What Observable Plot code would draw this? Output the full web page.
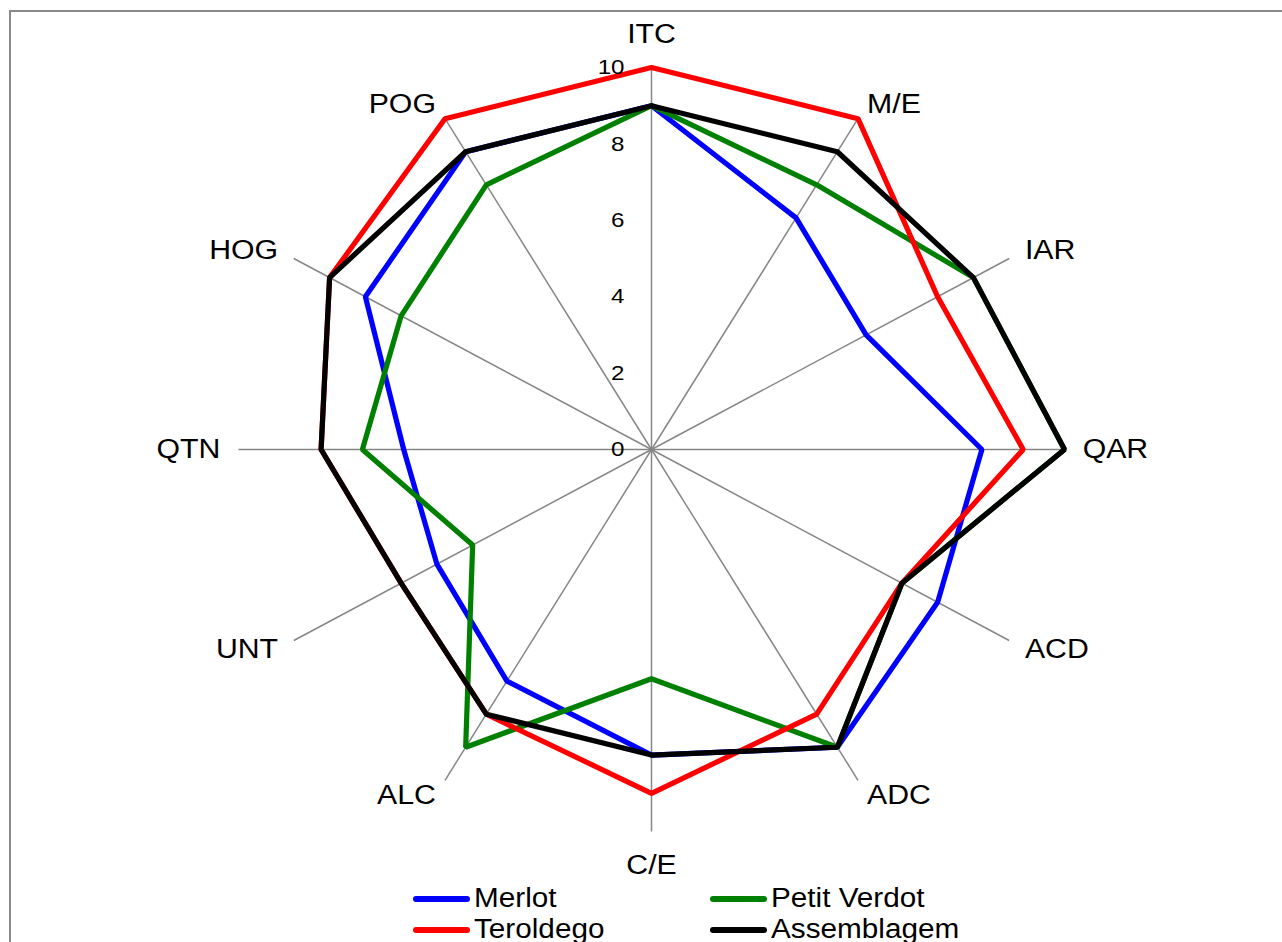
<!DOCTYPE html>
<html><head><meta charset="utf-8">
<script src="https://cdn.jsdelivr.net/npm/d3@7"></script>
<script src="https://cdn.jsdelivr.net/npm/@observablehq/plot@0.6"></script>
<style>
html,body{margin:0;padding:0;background:#fff;overflow:hidden;width:1282px;height:942px;}
#frame{position:absolute;left:9px;top:10px;width:1400px;height:1000px;border-left:2px solid #8a8a8a;border-top:2px solid #8a8a8a;}
#chart{position:absolute;left:0;top:0;}
#legend{position:absolute;left:0;top:883px;width:1282px;height:70px;font-family:"Liberation Sans",Arial,sans-serif;font-size:27px;color:#000;}
.item{position:absolute;display:flex;align-items:center;height:31px;white-space:nowrap;}
.sw{width:57px;height:6px;border-radius:3px;margin-right:4px;}
.lt{display:inline-block;transform:scaleX(1.1);transform-origin:left center;}
</style></head><body>
<div id="frame"></div>
<div id="chart"></div>
<div id="legend"></div>
<script>
// Categories (clockwise from top)
const axesLabels = ["ITC","M/E","IAR","QAR","ACD","ADC","C/E","ALC","UNT","QTN","HOG","POG"];
// Series values
const merlot      = [9, 7, 6, 8, 8, 9, 8, 7, 6, 6, 8, 9];
const petitVerdot = [9, 8, 9, 10, 7, 9, 6, 9, 5, 7, 7, 8];
const teroldego   = [10, 10, 8, 9, 7, 8, 9, 8, 7, 8, 9, 10];
const assemblagem = [9, 9, 9, 10, 7, 9, 8, 8, 7, 8, 9, 9];
const seriesNames = ["Merlot", "Petit Verdot", "Teroldego", "Assemblagem"];
const seriesColors = ["#0000ff", "#008000", "#ff0000", "#000000"];
const tickValues = [0, 2, 4, 6, 8, 10];
const maxValue = 10;

const seriesValues = [merlot, petitVerdot, teroldego, assemblagem];
const n = axesLabels.length;
const ang = i => i * 2 * Math.PI / n;
const polar = (v, i) => ({x: v * Math.sin(ang(i)), y: v * Math.cos(ang(i))});

const seriesData = seriesValues.map((vals, s) =>
  vals.map((v, i) => ({series: seriesNames[s], axis: axesLabels[i], value: v, ...polar(v, i)})));

const spokes = axesLabels.map((a, i) => ({axis: a, ...polar(maxValue, i)}));

const labelPos = axesLabels.map((a, i) => {
  const s = Math.sin(ang(i));
  const side = Math.abs(s) < 1e-6 ? "middle" : (s > 0 ? "start" : "end");
  const r = side === "middle" ? maxValue + 0.88 : maxValue + 0.44;
  return {axis: a, side, ...polar(r, i)};
});

const font = '"Liberation Sans", Arial, sans-serif';

const marks = [
  Plot.link(spokes, {x1: 0, y1: 0, x2: "x", y2: "y", stroke: "#868686", strokeWidth: 1.5}),
  ...seriesData.map((d, s) => Plot.line(d, {
    x: "x", y: "y", curve: "linear-closed",
    stroke: seriesColors[s], strokeWidth: 5.2, strokeLinejoin: "miter", strokeLinecap: "butt"
  })),
  Plot.text(tickValues, {x: 0, y: d => d, text: d => String(d), textAnchor: "end", dx: -27, fontSize: 21, fill: "#000"}),
  Plot.text(labelPos.filter(d => d.side === "start"), {x: "x", y: "y", text: "axis", textAnchor: "start", fontSize: 27, fill: "#000"}),
  Plot.text(labelPos.filter(d => d.side === "end"), {x: "x", y: "y", text: "axis", textAnchor: "end", fontSize: 27, fill: "#000"}),
  Plot.text(labelPos.filter(d => d.side === "middle"), {x: "x", y: "y", text: "axis", textAnchor: "middle", fontSize: 27, fill: "#000"})
];

const chart = Plot.plot({
  width: 1282, height: 884,
  marginTop: 0, marginBottom: 0, marginLeft: 0, marginRight: 0,
  x: {domain: [-maxValue, maxValue], range: [238, 1064], axis: null},
  y: {domain: [-maxValue, maxValue], range: [831, 67], axis: null},
  style: {fontFamily: font, background: "transparent", overflow: "visible"},
  marks
});
document.getElementById("chart").appendChild(chart);

// The reference text is slightly wider than the plain font: stretch glyphs horizontally
chart.querySelectorAll("text").forEach(t => {
  const fs = parseFloat(getComputedStyle(t).fontSize);
  const k = fs < 24 ? 1.15 : 1.12;
  const len = t.getComputedTextLength();
  if (len > 0) {
    t.setAttribute("textLength", (len * k).toFixed(2));
    t.setAttribute("lengthAdjust", "spacingAndGlyphs");
  }
});

// Legend (HTML, below the SVG)
const legend = document.getElementById("legend");
const legendPos = [[413, 0], [710, 0], [413, 31], [710, 31]];
seriesNames.forEach((name, s) => {
  const item = document.createElement("div");
  item.className = "item";
  item.style.left = legendPos[s][0] + "px";
  item.style.top = legendPos[s][1] + "px";
  const sw = document.createElement("span");
  sw.className = "sw";
  sw.style.background = seriesColors[s];
  const t = document.createElement("span");
  t.className = "lt";
  t.textContent = name;
  item.appendChild(sw);
  item.appendChild(t);
  legend.appendChild(item);
});
</script>
</body></html>
